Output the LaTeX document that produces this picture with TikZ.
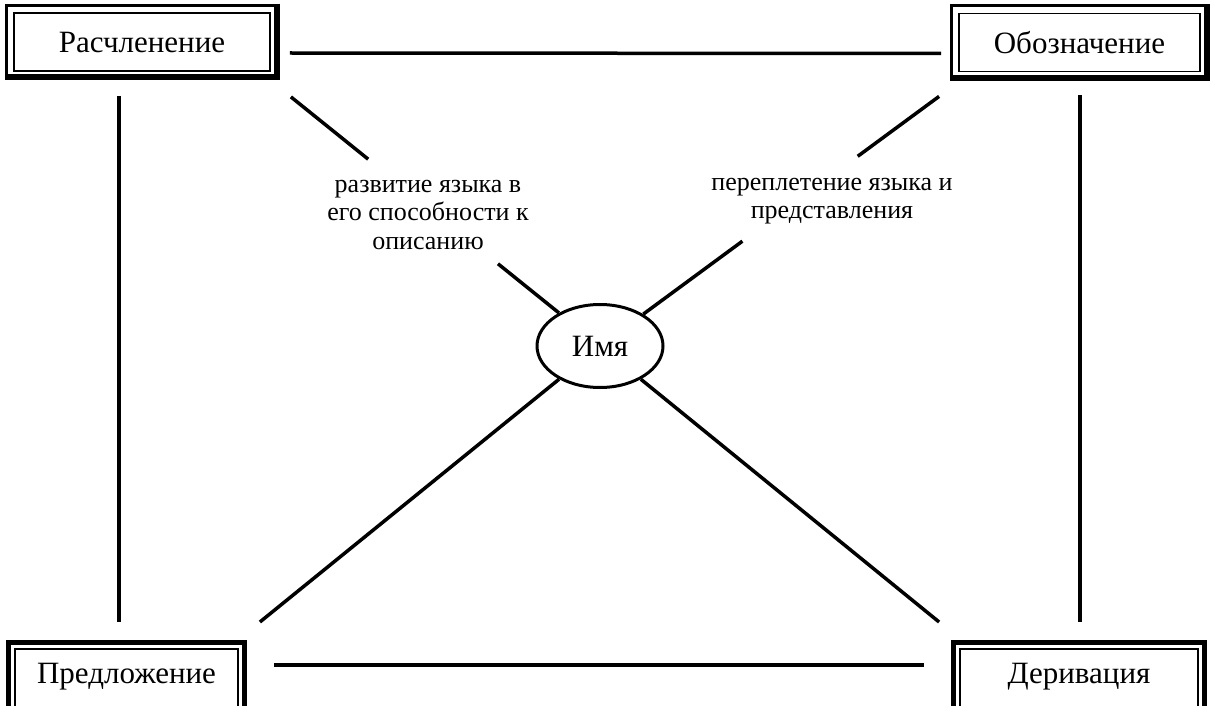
\documentclass[tikz,border=0pt]{standalone}
\usepackage{fontspec}
\setmainfont{Liberation Serif}
\usetikzlibrary{shapes,calc}

\begin{document}
\begin{tikzpicture}[x=1pt,y=-1pt]
    \newcommand{\boxfont}[0]{\fontsize{31}{35}\selectfont}
    \newcommand{\notefont}[0]{\fontsize{26}{28.5}\selectfont}

    \tikzstyle{link} = [line width=3.5pt,draw=black]

    \tikzstyle{cell}=[
      rectangle,
      draw=black,
      line width=1.8pt,
      font=\boxfont,
      minimum height=58pt,
      text height=22pt,
      text depth=0pt,
    ]
    \tikzstyle{lowcell}=[
      cell,
      anchor=north,
      minimum height=62pt,
      text depth=14pt,
    ]
    \tikzstyle{outerframe}=[
      line width=3pt,
      draw=black,
    ]
    \tikzstyle{heavyframe}=[
      line width=5pt,
      draw=black,
    ]
    \tikzstyle{shadowline}=[
      line width=6pt,
      draw=black,
    ]
    \tikzstyle{note}=[
      align=center,
      font=\notefont,
    ]

    \path[use as bounding box,clip] (0,0) rectangle (1211,706);

    \node[cell,minimum width=256pt] (partition) at (142,42) {Расчленение};
    \node[cell,minimum width=241pt] (designation) at (1079.5,42.5) {Обозначение};
    \node[lowcell,minimum width=223pt] (sentence) at (126.5,648) {Предложение};
    \node[lowcell,minimum width=238pt] (derivation) at (1079,648) {Деривация};

    \foreach \cellname in {partition,designation} {
      \draw[outerframe] ([shift={(-7,-7)}]\cellname.north west)
                     rectangle ([shift={(7,7)}]\cellname.south east);
      \draw[shadowline] ([shift={(6,-8.5)}]\cellname.north east)
                     -- ([shift={(6,5.5)}]\cellname.south east)
                     -- ([shift={(-8.5,5.5)}]\cellname.south west);
    }
    \foreach \cellname in {sentence,derivation}
      \draw[heavyframe] ([shift={(-6,-6)}]\cellname.north west)
                     rectangle ([shift={(6,6)}]\cellname.south east);

    \node[ellipse,draw,line width=3pt,minimum width=126pt,minimum height=83pt,
          inner sep=0pt,font=\boxfont] (naming) at (600,346) {Имя};

    \node[note] (describing) at (428,215) {развитие языка в\\его способности к\\описанию};
    \node[note] (interlacing) at (832,201) {переплетение языка и\\представления};

    \coordinate (ul) at ([shift={(20,25)}]partition.south east);
    \coordinate (ur) at ([shift={(-19,24)}]designation.south west);
    \coordinate (ll) at ([shift={(21,-26)}]sentence.north east);
    \coordinate (lr) at ([shift={(-20,-26)}]derivation.north west);

    \draw[link] ([shift={(19,11)}]partition.east) -- ([shift={(-17,11)}]designation.west);
    \draw[link] ([shift={(-23,24)}]partition.south) -- ([shift={(-7.5,-26)}]sentence.north);
    \draw[link] ([shift={(0.5,23)}]designation.south) -- ([shift={(1,-26)}]derivation.north);
    \draw[link] ([shift={(35,-15)}]sentence.east) -- ([shift={(-35,-15)}]derivation.west);

    \draw[link] (ul) -- ($(ul)!0.25!(naming)$);
    \draw[link] ($(ul)!0.67!(naming)$) -- (naming);
    \draw[link] (ur) -- ($(ur)!0.24!(naming)$);
    \draw[link] ($(ur)!0.58!(naming)$) -- (naming);
    \draw[link] (ll) -- (naming);
    \draw[link] (lr) -- (naming);
  \end{tikzpicture}
\end{document}
